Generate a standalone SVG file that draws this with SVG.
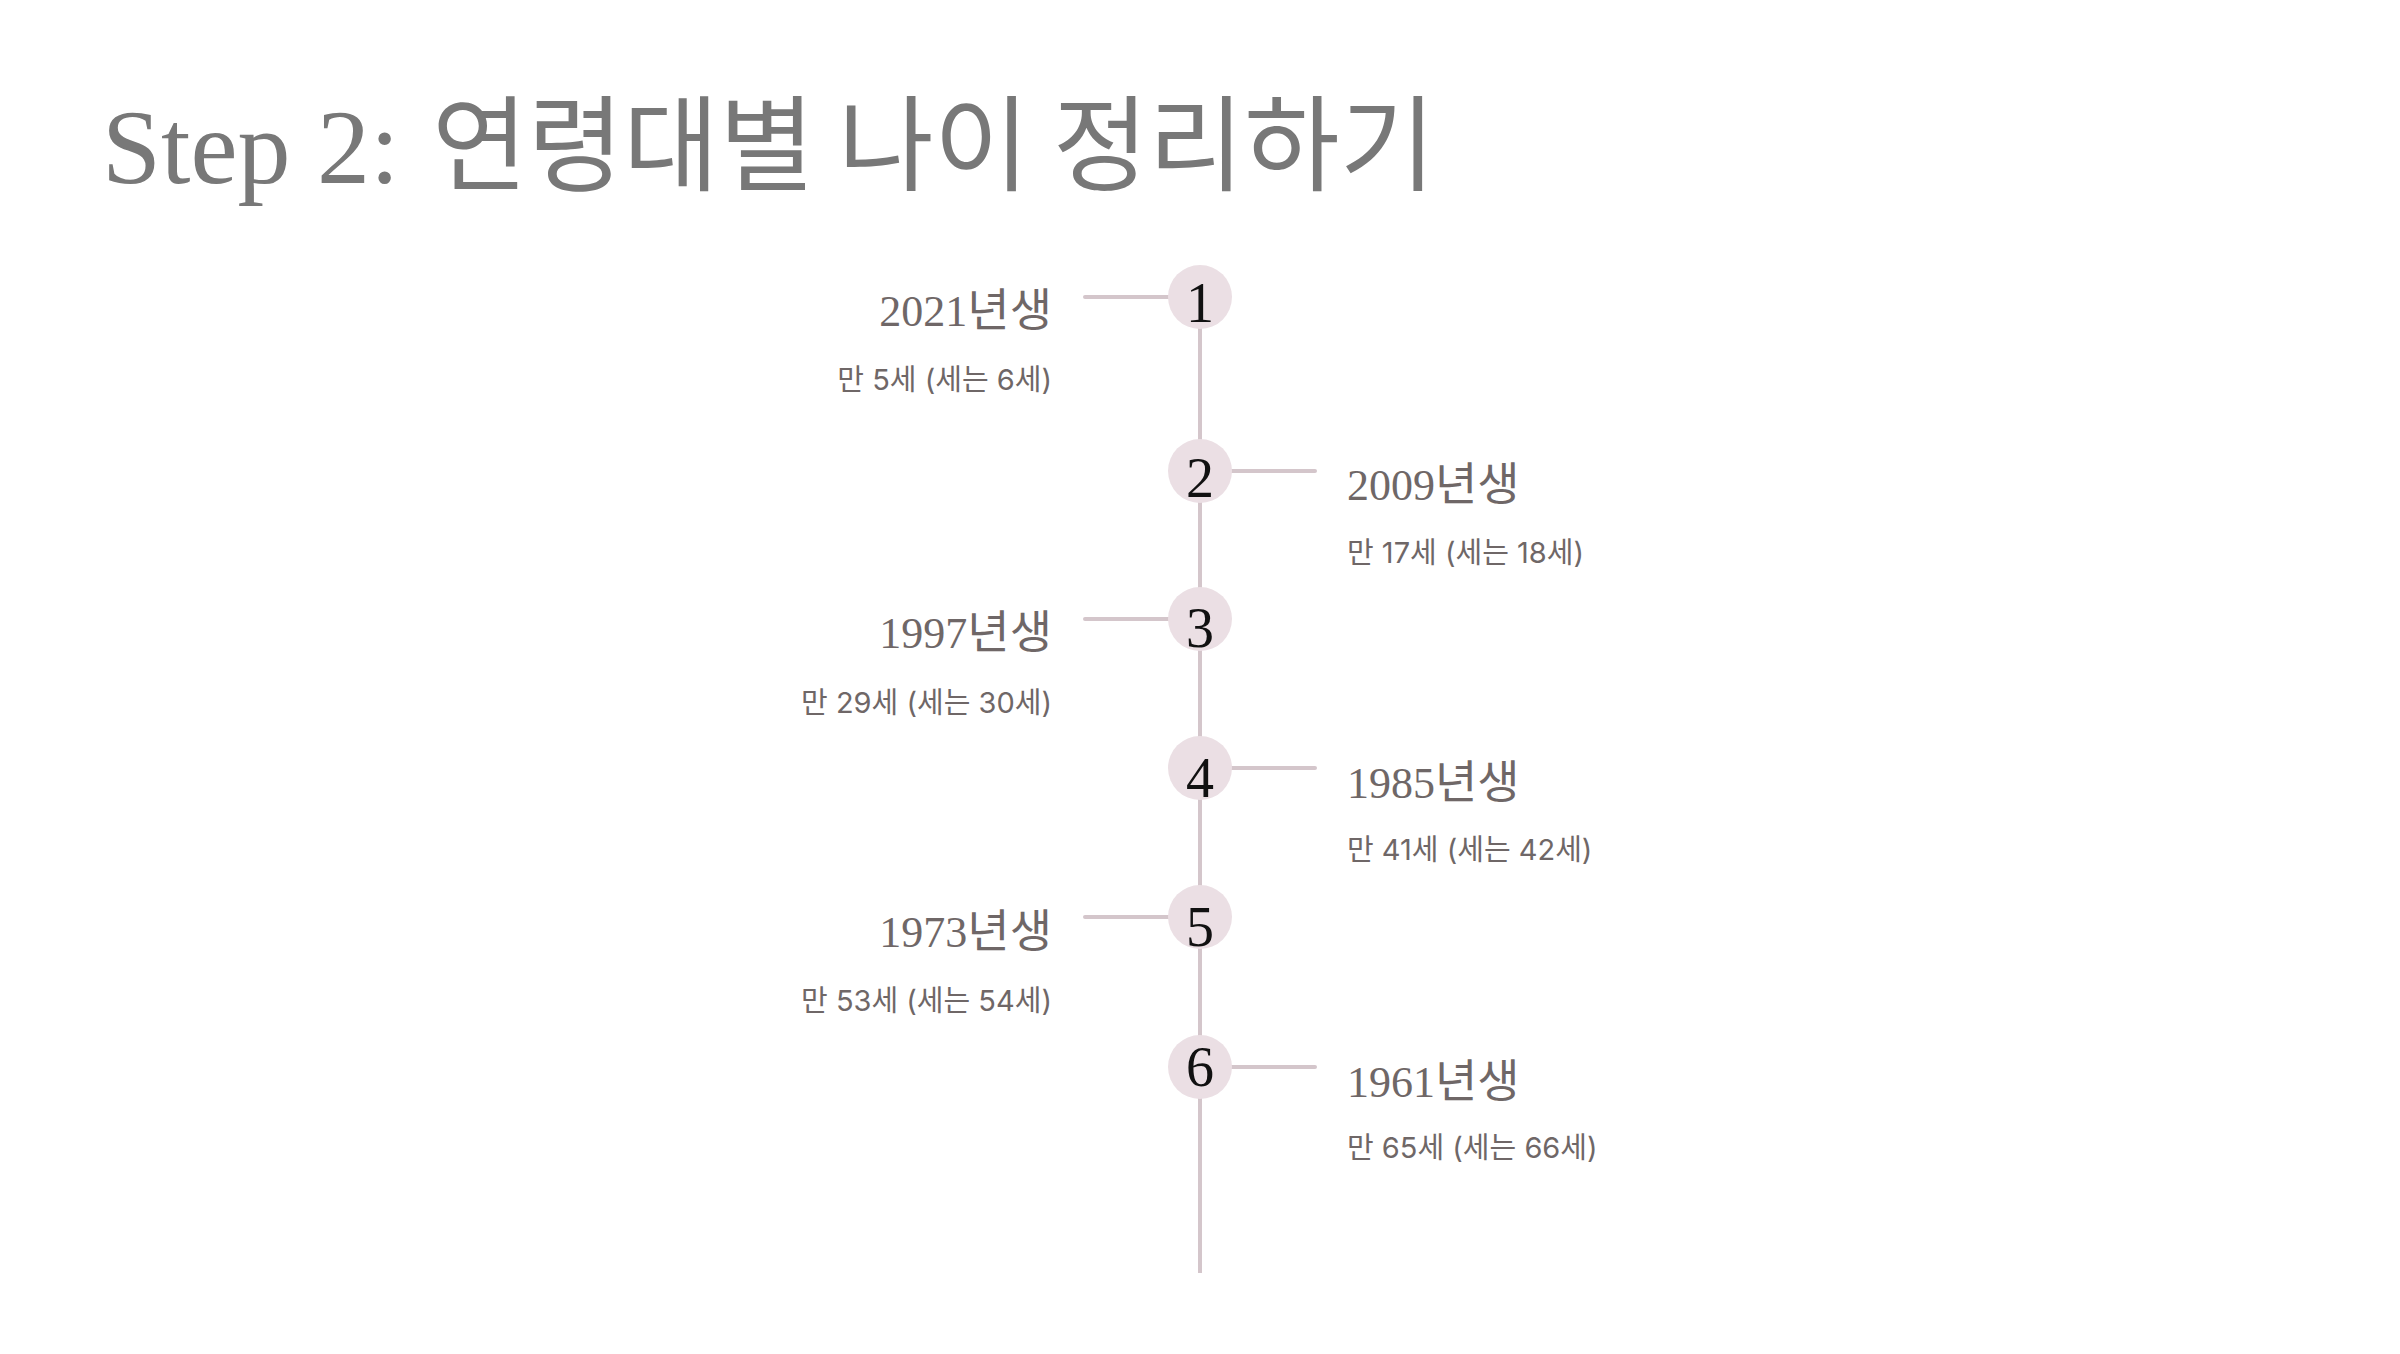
<svg xmlns="http://www.w3.org/2000/svg" width="2400" height="1354" viewBox="0 0 2400 1354">
  <style>
    .title-serif { font-family: "Liberation Serif", "DejaVu Serif", serif; font-size: 106px; fill: #787878; }
    .title-kr { font-family: "Noto Sans CJK KR", "Noto Sans", sans-serif; font-size: 104px; fill: #787878; }
    .conn { stroke: #d4c6cb; stroke-width: 4; stroke-linecap: round; fill: none; }
    .dot { fill: #ebdfe4; }
    .num { font-family: "Liberation Serif", "DejaVu Serif", serif; font-size: 56px; fill: #111111; text-anchor: middle; }
    .year { font-size: 46px; fill: #6f6767; }
    .yd { font-family: "Liberation Serif", "DejaVu Serif", serif; font-size: 44px; }
    .yk { font-family: "Noto Sans CJK KR", "Noto Sans", sans-serif; }
    .sub { font-family: "Inter", "Noto Sans CJK KR", sans-serif; font-size: 29px; fill: #6f6767; }
    .l { text-anchor: end; }
    .r { text-anchor: start; }
  </style>
  <rect width="2400" height="1354" fill="#ffffff"/>
  <g id="title">
    <text y="183"><tspan class="title-serif" x="102">Step 2:</tspan><tspan class="title-kr" x="432">연령대별 나이 정리하기</tspan></text>
  </g>
  <g id="connectors">
    <line class="conn" x1="1200" y1="297" x2="1200" y2="1273" style="stroke-linecap:butt"/>
    <line class="conn" x1="1085" y1="297" x2="1200" y2="297"/>
    <line class="conn" x1="1200" y1="471" x2="1315" y2="471"/>
    <line class="conn" x1="1085" y1="619" x2="1200" y2="619"/>
    <line class="conn" x1="1200" y1="768" x2="1315" y2="768"/>
    <line class="conn" x1="1085" y1="917" x2="1200" y2="917"/>
    <line class="conn" x1="1200" y1="1067" x2="1315" y2="1067"/>
  </g>
  <g id="node1">
    <circle class="dot" cx="1200" cy="297" r="32"/>
    <text class="num" x="1200" y="322">1</text>
    <text class="year l" x="1052" y="326"><tspan class="yd">2021</tspan><tspan class="yk">년생</tspan></text>
    <text class="sub l" x="1052" y="390">만 5세 (세는 6세)</text>
  </g>
  <g id="node2">
    <circle class="dot" cx="1200" cy="471" r="32"/>
    <text class="num" x="1200" y="497">2</text>
    <text class="year r" x="1347" y="500"><tspan class="yd">2009</tspan><tspan class="yk">년생</tspan></text>
    <text class="sub r" x="1347" y="563">만 17세 (세는 18세)</text>
  </g>
  <g id="node3">
    <circle class="dot" cx="1200" cy="619" r="32"/>
    <text class="num" x="1200" y="647">3</text>
    <text class="year l" x="1052" y="648"><tspan class="yd">1997</tspan><tspan class="yk">년생</tspan></text>
    <text class="sub l" x="1052" y="713">만 29세 (세는 30세)</text>
  </g>
  <g id="node4">
    <circle class="dot" cx="1200" cy="768" r="32"/>
    <text class="num" x="1200" y="797">4</text>
    <text class="year r" x="1347" y="798"><tspan class="yd">1985</tspan><tspan class="yk">년생</tspan></text>
    <text class="sub r" x="1347" y="860">만 41세 (세는 42세)</text>
  </g>
  <g id="node5">
    <circle class="dot" cx="1200" cy="917" r="32"/>
    <text class="num" x="1200" y="946">5</text>
    <text class="year l" x="1052" y="947"><tspan class="yd">1973</tspan><tspan class="yk">년생</tspan></text>
    <text class="sub l" x="1052" y="1011">만 53세 (세는 54세)</text>
  </g>
  <g id="node6">
    <circle class="dot" cx="1200" cy="1067" r="32"/>
    <text class="num" x="1200" y="1086">6</text>
    <text class="year r" x="1347" y="1097"><tspan class="yd">1961</tspan><tspan class="yk">년생</tspan></text>
    <text class="sub r" x="1347" y="1158">만 65세 (세는 66세)</text>
  </g>
</svg>
